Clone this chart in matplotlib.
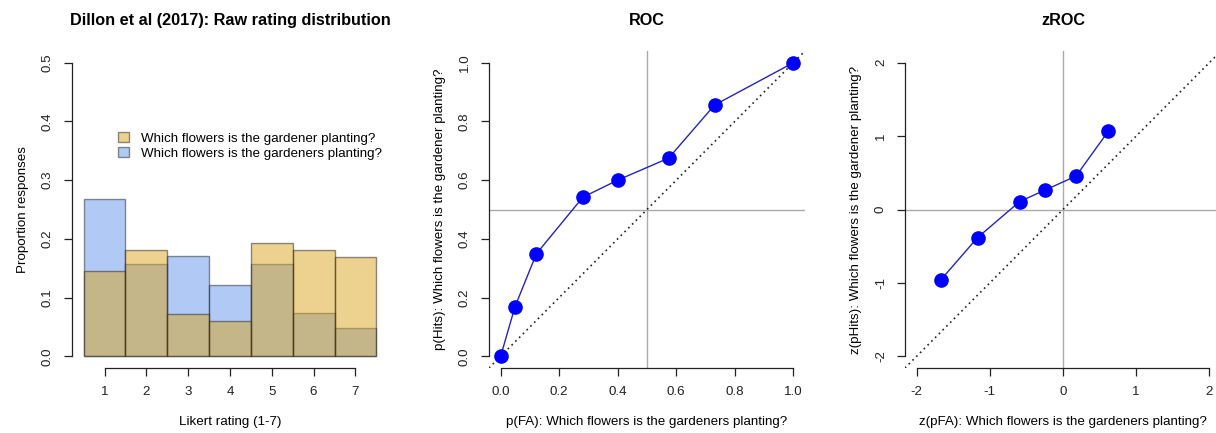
import numpy as np
import matplotlib.pyplot as plt
from matplotlib.patches import Patch

plt.rcParams['font.family'] = ['Liberation Sans', 'DejaVu Sans']
plt.rcParams['axes.unicode_minus'] = False

# Likert rating distribution (proportion of responses)
ratings = [1, 2, 3, 4, 5, 6, 7]
prop_gardener = [0.145, 0.181, 0.072, 0.060, 0.193, 0.181, 0.169]
prop_gardeners = [0.268, 0.158, 0.170, 0.122, 0.158, 0.073, 0.048]
label_gardener = "Which flowers is the gardener planting?"
label_gardeners = "Which flowers is the gardeners planting?"

# ROC points (cumulative)
p_fa = [0.0, 0.049, 0.122, 0.281, 0.402, 0.574, 0.731, 1.0]
p_hits = [0.0, 0.169, 0.349, 0.542, 0.601, 0.675, 0.856, 1.0]

# zROC points
z_fa = [-1.668, -1.168, -0.591, -0.247, 0.179, 0.619]
z_hits = [-0.957, -0.383, 0.109, 0.264, 0.456, 1.066]

FS = 9.6
TITLE_FS = 11.7
col_yellow = 'goldenrod'
col_blue = 'cornflowerblue'
dot_blue = '#0000ff'
line_blue = '#2424c0'


def r_style(ax, xb, yb):
    for s in ['top', 'right']:
        ax.spines[s].set_visible(False)
    ax.spines['left'].set_bounds(*yb)
    ax.spines['bottom'].set_bounds(*xb)
    for s in ['left', 'bottom']:
        ax.spines[s].set_linewidth(0.9)
        ax.spines[s].set_color('#222222')
    ax.tick_params(direction='out', length=6, width=0.9, colors='#222222',
                   labelsize=FS, pad=7)
    for lab in ax.get_yticklabels():
        lab.set_rotation(90)
        lab.set_va('center')


fig = plt.figure(figsize=(12.16, 4.33), dpi=100)
w = 0.2599
bottom = 0.1501
height = 0.7321

# panel 1: histogram of ratings
ax1 = fig.add_axes([0.0592, bottom, w, height])
ax1.bar(ratings, prop_gardeners, width=1.0, color=col_blue, alpha=0.5,
        edgecolor='#222222', linewidth=1.0)
ax1.bar(ratings, prop_gardener, width=1.0, color=col_yellow, alpha=0.5,
        edgecolor='#222222', linewidth=1.0)
ax1.set_xlim(0.5 - 0.28, 7.5 + 0.28)
ax1.set_ylim(-0.02, 0.52)
ax1.set_xticks(ratings)
ax1.set_yticks([0.0, 0.1, 0.2, 0.3, 0.4, 0.5])
ax1.set_yticklabels(['0.0', '0.1', '0.2', '0.3', '0.4', '0.5'])
r_style(ax1, (1, 7), (0, 0.5))
ax1.set_title("Dillon et al (2017): Raw rating distribution",
              fontsize=TITLE_FS, fontweight='bold', pad=19)
ax1.set_xlabel("Likert rating (1-7)", fontsize=FS, labelpad=13)
ax1.set_ylabel("Proportion responses", fontsize=FS, labelpad=9)
handles = [Patch(facecolor=col_yellow, alpha=0.5, edgecolor='#222222', lw=1.0),
           Patch(facecolor=col_blue, alpha=0.5, edgecolor='#222222', lw=1.0)]
ax1.legend(handles, [label_gardener, label_gardeners], loc='upper left',
           bbox_to_anchor=(0.125, 0.765), frameon=False, fontsize=FS,
           handlelength=0.8, handleheight=0.8, handletextpad=0.9,
           labelspacing=0.15, borderpad=0)

# panel 2: ROC
ax2 = fig.add_axes([0.4021, bottom, w, height])
ax2.set_xlim(-0.04, 1.04)
ax2.set_ylim(-0.04, 1.04)
ax2.axvline(0.5, color='#aaaaaa', lw=1.0)
ax2.axhline(0.5, color='#aaaaaa', lw=1.0)
ax2.axline((0, 0), slope=1, color='#222222', lw=1.2, ls=(0, (1, 2.2)))
ax2.plot(p_fa, p_hits, color=line_blue, lw=1.0)
ax2.plot(p_fa, p_hits, 'o', color=dot_blue, ms=9.5)
ticks = [0.0, 0.2, 0.4, 0.6, 0.8, 1.0]
ax2.set_xticks(ticks)
ax2.set_xticklabels(['0.0', '0.2', '0.4', '0.6', '0.8', '1.0'])
ax2.set_yticks(ticks)
ax2.set_yticklabels(['0.0', '0.2', '0.4', '0.6', '0.8', '1.0'])
r_style(ax2, (0, 1), (0, 1))
ax2.set_title("ROC", fontsize=TITLE_FS, fontweight='bold', pad=19)
ax2.set_xlabel("p(FA): Which flowers is the gardeners planting?", fontsize=FS, labelpad=13)
ax2.set_ylabel("p(Hits): Which flowers is the gardener planting?", fontsize=FS, labelpad=9)

# panel 3: zROC
ax3 = fig.add_axes([0.7442, bottom, w, height])
ax3.set_xlim(-2.16, 2.16)
ax3.set_ylim(-2.16, 2.16)
ax3.axvline(0, color='#aaaaaa', lw=1.0)
ax3.axhline(0, color='#aaaaaa', lw=1.0)
ax3.axline((0, 0), slope=1, color='#222222', lw=1.2, ls=(0, (1, 2.2)))
ax3.plot(z_fa, z_hits, color=line_blue, lw=1.0)
ax3.plot(z_fa, z_hits, 'o', color=dot_blue, ms=9.5)
zt = [-2, -1, 0, 1, 2]
ax3.set_xticks(zt)
ax3.set_yticks(zt)
r_style(ax3, (-2, 2), (-2, 2))
ax3.set_title("zROC", fontsize=TITLE_FS, fontweight='bold', pad=19)
ax3.set_xlabel("z(pFA): Which flowers is the gardeners planting?", fontsize=FS, labelpad=13)
ax3.set_ylabel("z(pHits): Which flowers is the gardener planting?", fontsize=FS, labelpad=9)

fig.savefig("out.png", dpi=100)
